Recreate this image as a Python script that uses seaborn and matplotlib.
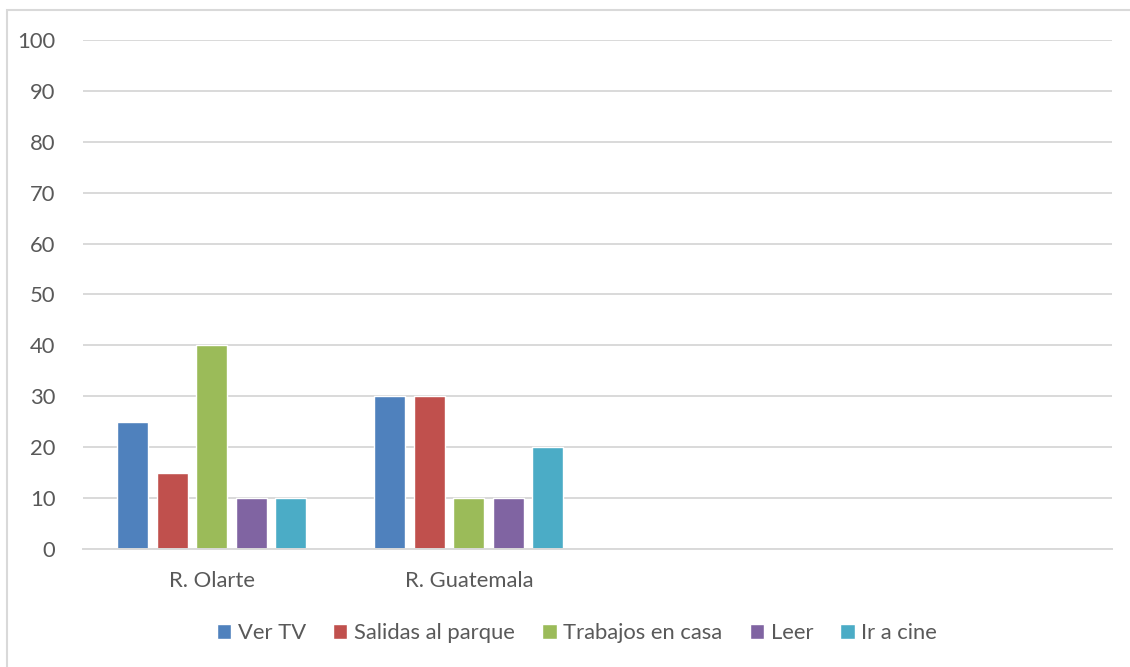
import matplotlib
matplotlib.use('Agg')
import matplotlib.pyplot as plt
from matplotlib.patches import Rectangle
import seaborn as sns
import pandas as pd

# datos
lugares = ["R. Olarte", "R. Guatemala"]
slots = ["R. Olarte", "R. Guatemala", " ", "  "]   # Excel deja dos categorías vacías
actividades = ["Ver TV", "Salidas al parque", "Trabajos en casa", "Leer", "Ir a cine"]
olarte = [25, 15, 40, 10, 10]
guatemala = [30, 30, 10, 10, 20]
colores = ["#4F81BD", "#C0504D", "#9BBB59", "#8064A2", "#4BACC6"]
yticks = [0, 10, 20, 30, 40, 50, 60, 70, 80, 90, 100]

filas = []
for lugar, valores in zip(lugares, [olarte, guatemala]):
    for act, v in zip(actividades, valores):
        filas.append({'lugar': lugar, 'actividad': act, 'valor': v})
df = pd.DataFrame(filas)

sns.set_style('white')
plt.rcParams['font.family'] = ['Lato', 'DejaVu Sans']
texto = '#595959'
rejilla = '#d9d9d9'
fs = 15.8

fig = plt.figure(figsize=(11.3, 6.67), dpi=100)
ax = fig.add_axes([0.0735, 0.177, 0.9105, 0.763])

sns.barplot(data=df, x='lugar', y='valor', hue='actividad', order=slots,
            hue_order=actividades, palette=colores, width=0.768, gap=0.215,
            saturation=1, ax=ax, legend=True)

ax.set_ylim(0, 100)
ax.set_xlim(-0.5, len(slots) - 0.5)
ax.set_yticks(yticks)
ax.set_yticklabels([str(t) for t in yticks])
ax.yaxis.grid(True, color=rejilla, lw=1.4)
ax.set_axisbelow(True)
for s in ['top', 'right', 'left']:
    ax.spines[s].set_visible(False)
ax.spines['bottom'].set_color(rejilla)
ax.spines['bottom'].set_linewidth(1.4)
ax.tick_params(axis='y', length=0, pad=20, labelsize=fs, labelcolor=texto)
ax.tick_params(axis='x', length=0, pad=16, labelsize=fs, labelcolor=texto)
ax.set_xlabel('')
ax.set_ylabel('')

ax.legend(loc='center', ncol=5, frameon=False, fontsize=fs, labelcolor=texto,
          handlelength=0.65, handleheight=0.65, handletextpad=0.3, columnspacing=1.25)
leg = ax.get_legend()
leg.set_bbox_to_anchor((0.5106, 1 - 633 / 667), transform=fig.transFigure)

# marco del gráfico
fig.patches.append(Rectangle((0.0062, -0.1), 1.2, 1.085, transform=fig.transFigure,
                             fill=False, edgecolor=rejilla, lw=1.5))

fig.savefig('out.png', dpi=100)
